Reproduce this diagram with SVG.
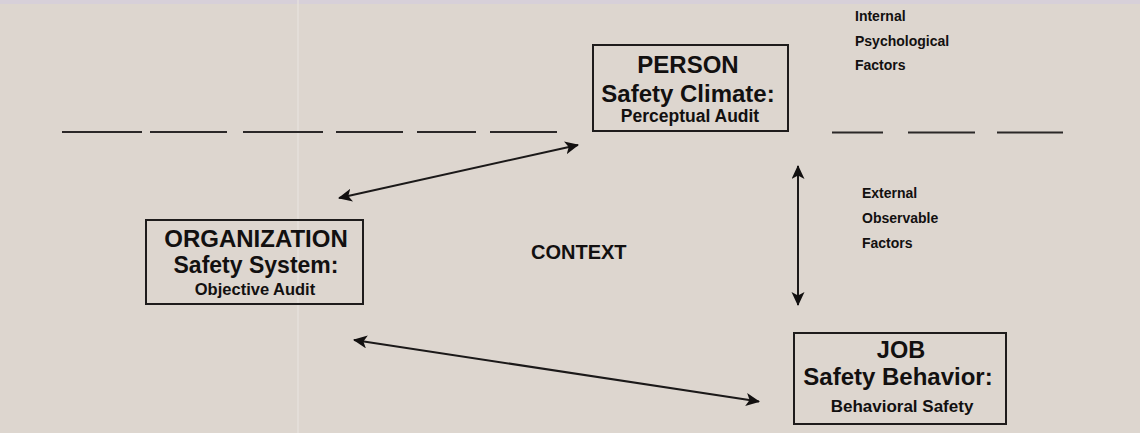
<svg xmlns="http://www.w3.org/2000/svg" width="1140" height="433" viewBox="0 0 1140 433">
  <style>
    .box { fill: none; stroke: #1e1c1c; stroke-width: 2; }
    .t { font-family: "Liberation Sans", Arial, Helvetica, sans-serif; font-weight: bold; fill: #121010; }
    .mid { text-anchor: middle; }
    .dash { stroke: #2b2828; stroke-width: 2.2; }
    .conn { stroke: #1b1919; stroke-width: 2; fill: none; }
  </style>
  <defs>
    <marker id="head" markerUnits="userSpaceOnUse" markerWidth="16" markerHeight="14" refX="13" refY="6.5" orient="auto-start-reverse">
      <path d="M0,0 L14,6.5 L0,13 L3.5,6.5 z" fill="#121010"/>
    </marker>
  </defs>

  <!-- paper -->
  <rect x="0" y="0" width="1140" height="433" fill="#ddd6cf"/>
  <rect x="0" y="0" width="1140" height="4" fill="#d7d0d9"/>
  <line x1="298" y1="0" x2="298" y2="433" stroke="#e8e3de" stroke-width="1.2"/>

  <!-- boundary between internal and external factors -->
  <g id="boundary">
    <line class="dash" x1="62" y1="132" x2="142" y2="132"/>
    <line class="dash" x1="150" y1="132" x2="227" y2="132"/>
    <line class="dash" x1="243" y1="132" x2="323" y2="132"/>
    <line class="dash" x1="336" y1="132" x2="403" y2="132"/>
    <line class="dash" x1="417" y1="132" x2="476" y2="132"/>
    <line class="dash" x1="490" y1="132" x2="557" y2="132"/>
    <line class="dash" x1="832" y1="132.5" x2="883" y2="132.5"/>
    <line class="dash" x1="908" y1="132.5" x2="975" y2="132.5"/>
    <line class="dash" x1="997" y1="132.5" x2="1063" y2="132.5"/>
  </g>

  <g id="connectors">
    <line class="conn" x1="339" y1="198" x2="578" y2="145" marker-start="url(#head)" marker-end="url(#head)"/>
    <line class="conn" x1="354" y1="340" x2="759" y2="401.5" marker-start="url(#head)" marker-end="url(#head)"/>
    <line class="conn" x1="798" y1="166" x2="798" y2="305" marker-start="url(#head)" marker-end="url(#head)"/>
  </g>

  <g id="person">
    <rect class="box" x="593" y="45" width="195" height="86"/>
    <text class="t mid" x="688" y="73" font-size="24">PERSON</text>
    <text class="t mid" x="688" y="102" font-size="24">Safety Climate:</text>
    <text class="t mid" x="690" y="122" font-size="17.5">Perceptual Audit</text>
  </g>

  <g id="organization">
    <rect class="box" x="146" y="220" width="217" height="84"/>
    <text class="t mid" x="256" y="247" font-size="24">ORGANIZATION</text>
    <text class="t mid" x="256" y="273" font-size="23">Safety System:</text>
    <text class="t mid" x="255" y="295" font-size="16.5">Objective Audit</text>
  </g>

  <g id="job">
    <rect class="box" x="794" y="333" width="212" height="91"/>
    <text class="t mid" x="901" y="358" font-size="23.5">JOB</text>
    <text class="t mid" x="898" y="385" font-size="24">Safety Behavior:</text>
    <text class="t mid" x="902" y="411.5" font-size="17">Behavioral Safety</text>
  </g>

  <g id="context">
    <text class="t" x="531" y="259" font-size="20">CONTEXT</text>
  </g>

  <g id="internal-factors">
    <text class="t" x="855" y="21" font-size="14">Internal</text>
    <text class="t" x="855" y="45.5" font-size="14">Psychological</text>
    <text class="t" x="855" y="70" font-size="14">Factors</text>
  </g>

  <g id="external-factors">
    <text class="t" x="862" y="198" font-size="14">External</text>
    <text class="t" x="862" y="223" font-size="14">Observable</text>
    <text class="t" x="862" y="248" font-size="14">Factors</text>
  </g>
</svg>
